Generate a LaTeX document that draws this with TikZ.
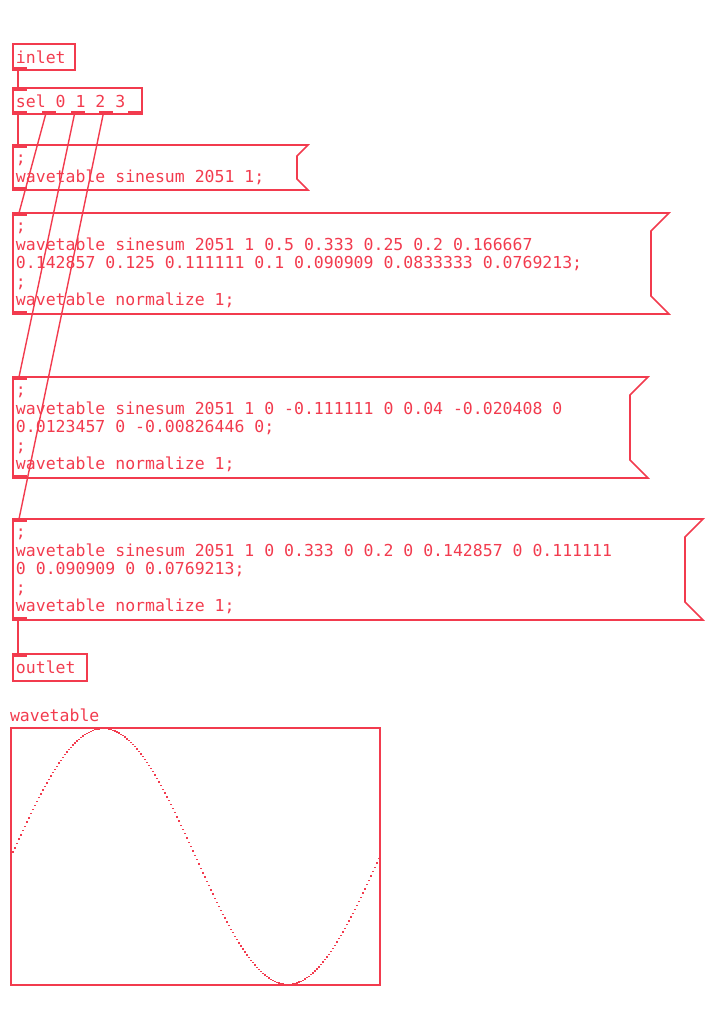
\documentclass[tikz,border=0pt]{standalone}
\usepackage{fontspec}
\newfontfamily\pdfont{DejaVu Sans Mono}
\DeclareRobustCommand\pdtext{\pdfont\fontsize{16.5}{18.5}\selectfont}
\newcommand\ws{\hspace*{9.934pt}}
\definecolor{PdRed}{HTML}{F23B4E}
\usetikzlibrary{calc}

% inlet / outlet tabs and the flag of a message box
\newcommand\pdin[2]{\fill[PdRed] ([xshift=#2pt]#1.north west) rectangle ++(14,3);}
\newcommand\pdout[2]{\fill[PdRed] ([xshift=#2pt]#1.south west) rectangle ++(14,-3);}
\newcommand\pdflag[2]{\draw[PdRed,line width=1.6pt] (#1.north west) -- (#1.north east) -- ++(-#2,#2)
  -- ($(#1.south east)+(-#2,-#2)$) -- (#1.south east) -- (#1.south west) -- cycle;}

\begin{document}
\begin{tikzpicture}[x=1pt,y=-1pt,
    every node/.style={anchor=north west,inner xsep=3pt,inner ysep=0pt,outer sep=0pt,
      font=\pdtext,text=PdRed,align=left},
    obj/.style 2 args={draw=PdRed,line width=1.6pt,minimum width=#1,text width=#1pt-6pt,minimum height=#2},
    msg/.style 2 args={minimum width=#1,text width=#1pt-6pt,minimum height=#2},
    cord/.style={draw=PdRed,line width=1.4pt}]
  \useasboundingbox (0,0) rectangle (726,1028);

  \node[obj={62}{26}] (inlet) at (13,44) {inlet};
  \node[obj={129}{26}] (sel) at (13,88) {sel\ws 0\ws 1\ws 2\ws 3};
  \node[msg={295}{45}] (m1) at (13,145) {\strut;\\wavetable\ws sinesum\ws 2051\ws 1;};
  \node[msg={656}{101}] (m2) at (13,213) {\strut;\\wavetable\ws sinesum\ws 2051\ws 1\ws 0.5\ws 0.333\ws 0.25\ws 0.2\ws 0.166667\\0.142857\ws 0.125\ws 0.111111\ws 0.1\ws 0.090909\ws 0.0833333\ws 0.0769213;\\;\\wavetable\ws normalize\ws 1;};
  \node[msg={635}{101}] (m3) at (13,377) {\strut;\\wavetable\ws sinesum\ws 2051\ws 1\ws 0\ws -0.111111\ws 0\ws 0.04\ws -0.020408\ws 0\\0.0123457\ws 0\ws -0.00826446\ws 0;\\;\\wavetable\ws normalize\ws 1;};
  \node[msg={690}{101}] (m4) at (13,519) {\strut;\\wavetable\ws sinesum\ws 2051\ws 1\ws 0\ws 0.333\ws 0\ws 0.2\ws 0\ws 0.142857\ws 0\ws 0.111111\\0\ws 0.090909\ws 0\ws 0.0769213;\\;\\wavetable\ws normalize\ws 1;};
  \node[obj={74}{27}] (outlet) at (13,654) {outlet};

  \pdflag{m1}{11}
  \pdflag{m2}{18}
  \pdflag{m3}{18}
  \pdflag{m4}{18}

  % tabs
  \pdout{inlet}{0}
  \pdin{sel}{0}
  \foreach \o in {0,28.75,57.5,86.25,115} {\pdout{sel}{\o}}
  \foreach \m in {m1,m2,m3,m4} {\pdin{\m}{0} \pdout{\m}{0}}
  \pdin{outlet}{0}

  % cords
  \draw[cord] ([xshift=5pt]inlet.south west) -- ([xshift=5pt]sel.north west);
  \draw[cord] ([xshift=5pt]sel.south west) -- ([xshift=5pt]m1.north west);
  \draw[cord] ([xshift=32.75pt]sel.south west) -- ([xshift=6pt]m2.north west);
  \draw[cord] ([xshift=61.5pt]sel.south west) -- ([xshift=6pt]m3.north west);
  \draw[cord] ([xshift=90.25pt]sel.south west) -- ([xshift=6pt]m4.north west);
  \draw[cord] ([xshift=5pt]m4.south west) -- ([xshift=5pt]outlet.north west);

  % array graph
  \node[anchor=base west,inner sep=0pt] (label) at (10,721) {wavetable};
  \node[obj={369}{257}] (graph) at (11,728) {};
  \foreach \i in {0,2,...,368}
    \fill[PdRed] ({10.3+\i},{855.8-128*sin(\i/369*360)}) rectangle ++(1.5,1.4);
\end{tikzpicture}
\end{document}
